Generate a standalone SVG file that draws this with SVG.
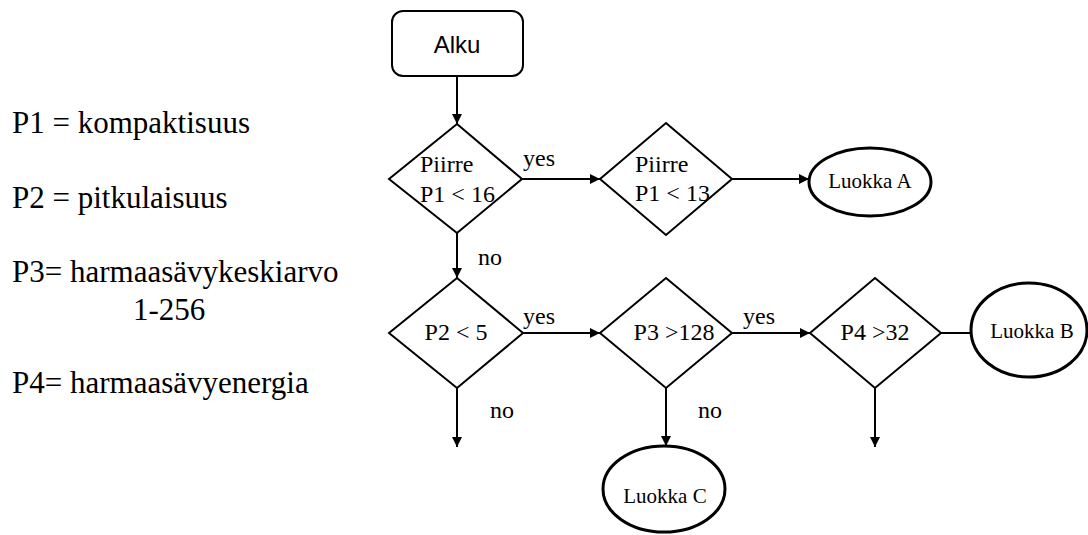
<svg xmlns="http://www.w3.org/2000/svg" width="1088" height="535" viewBox="0 0 1088 535">
<style>
.t{font-family:'Liberation Serif',serif;fill:#000}
.s{font-family:'Liberation Sans',sans-serif;fill:#000}
.d{fill:#fff;stroke:#000;stroke-width:2}
.e{fill:#fff;stroke:#000;stroke-width:3}
.c{stroke:#000;stroke-width:2;fill:none}
</style>
<defs>
<marker id="ah" viewBox="0 0 10 10" refX="10" refY="5" markerWidth="6" markerHeight="5" markerUnits="strokeWidth" orient="auto">
<path d="M0,0 L10,5 L0,10 z" fill="#000"/>
</marker>
</defs>
<g id="legend" class="t" font-size="31">
<text x="12" y="133">P1 = kompaktisuus</text>
<text x="12" y="208">P2 = pitkulaisuus</text>
<text x="12" y="282">P3= harmaasävykeskiarvo</text>
<text x="133" y="320">1-256</text>
<text x="12" y="393">P4= harmaasävyenergia</text>
</g>
<g id="connectors">
<line class="c" x1="457" y1="76" x2="457" y2="124" marker-end="url(#ah)"/>
<line class="c" x1="522" y1="179" x2="600" y2="179" marker-end="url(#ah)"/>
<line class="c" x1="732" y1="179" x2="809" y2="179" marker-end="url(#ah)"/>
<line class="c" x1="457" y1="233" x2="457" y2="278" marker-end="url(#ah)"/>
<line class="c" x1="523" y1="333" x2="600" y2="333" marker-end="url(#ah)"/>
<line class="c" x1="732" y1="333" x2="810" y2="333" marker-end="url(#ah)"/>
<line class="c" x1="941" y1="333" x2="971" y2="333"/>
<line class="c" x1="457" y1="388" x2="457" y2="447" marker-end="url(#ah)"/>
<line class="c" x1="666" y1="388" x2="666" y2="446" marker-end="url(#ah)"/>
<line class="c" x1="875" y1="388" x2="875" y2="447" marker-end="url(#ah)"/>
<g class="t" font-size="24">
<text x="523" y="166">yes</text>
<text x="478" y="265">no</text>
<text x="523" y="324">yes</text>
<text x="743" y="324">yes</text>
<text x="490" y="418">no</text>
<text x="698" y="418">no</text>
</g>
</g>
<g id="alku">
<rect class="d" x="392" y="11" width="131" height="65" rx="11"/>
<text class="s" x="457" y="53" font-size="24" text-anchor="middle">Alku</text>
</g>
<g id="d1">
<polygon class="d" points="457,124 522,179 457,233 389,179"/>
<text class="t" x="420" y="172" font-size="24">Piirre</text>
<text class="t" x="420" y="202" font-size="24">P1 &lt; 16</text>
</g>
<g id="d2">
<polygon class="d" points="666,123 732,179 666,235 600,179"/>
<text class="t" x="635" y="172" font-size="24">Piirre</text>
<text class="t" x="635" y="201" font-size="24">P1 &lt; 13</text>
</g>
<g id="luokkaA">
<ellipse class="e" cx="870" cy="182" rx="61" ry="34"/>
<text class="t" x="870" y="188" font-size="21" text-anchor="middle">Luokka A</text>
</g>
<g id="d3">
<polygon class="d" points="457,278 523,333 457,388 389,333"/>
<text class="t" x="456" y="340" font-size="24" text-anchor="middle">P2 &lt; 5</text>
</g>
<g id="d4">
<polygon class="d" points="666,278 732,333 666,388 600,333"/>
<text class="t" x="674" y="340" font-size="24" text-anchor="middle">P3 &gt;128</text>
</g>
<g id="d5">
<polygon class="d" points="875,278 941,333 875,388 810,333"/>
<text class="t" x="875" y="340" font-size="24" text-anchor="middle">P4 &gt;32</text>
</g>
<g id="luokkaB">
<ellipse class="e" cx="1029" cy="330" rx="58" ry="47"/>
<text class="t" x="1032" y="338" font-size="21" text-anchor="middle">Luokka B</text>
</g>
<g id="luokkaC">
<ellipse class="e" cx="664" cy="489" rx="61" ry="43"/>
<text class="t" x="665" y="503" font-size="21" text-anchor="middle">Luokka C</text>
</g>
</svg>
